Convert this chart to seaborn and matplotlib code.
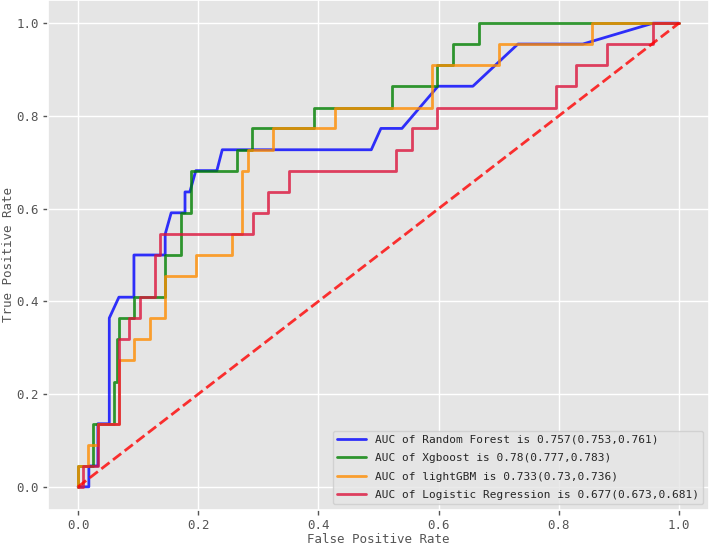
import pandas as pd
import matplotlib
matplotlib.use('Agg')
import matplotlib.pyplot as plt
import seaborn as sns

# ROC points
rf_fpr = [0, 0.018, 0.018, 0.033, 0.033, 0.052, 0.052, 0.068, 0.093, 0.093, 0.145, 0.145, 0.155, 0.178,
          0.178, 0.186, 0.196, 0.231, 0.240, 0.488, 0.504, 0.539, 0.599, 0.657, 0.732, 0.840, 0.957, 1.0]
rf_tpr = [0, 0, 0.045, 0.045, 0.136, 0.136, 0.364, 0.409, 0.409, 0.5, 0.5, 0.545, 0.591, 0.591,
          0.636, 0.636, 0.682, 0.682, 0.727, 0.727, 0.773, 0.773, 0.864, 0.864, 0.955, 0.955, 1.0, 1.0]

xgb_fpr = [0, 0, 0.025, 0.025, 0.060, 0.060, 0.064, 0.064, 0.068, 0.068, 0.093, 0.093, 0.145, 0.145,
           0.171, 0.171, 0.188, 0.188, 0.265, 0.265, 0.290, 0.290, 0.393, 0.393, 0.522, 0.522, 0.597,
           0.597, 0.624, 0.624, 0.667, 0.667, 1.0]
xgb_tpr = [0, 0.045, 0.045, 0.136, 0.136, 0.227, 0.227, 0.318, 0.318, 0.364, 0.364, 0.409, 0.409, 0.5,
           0.5, 0.591, 0.591, 0.682, 0.682, 0.727, 0.727, 0.773, 0.773, 0.818, 0.818, 0.864, 0.864,
           0.909, 0.909, 0.955, 0.955, 1.0, 1.0]

lgb_fpr = [0, 0, 0.017, 0.017, 0.033, 0.033, 0.068, 0.068, 0.093, 0.093, 0.120, 0.120, 0.145, 0.145,
           0.196, 0.196, 0.257, 0.257, 0.273, 0.273, 0.283, 0.283, 0.324, 0.324, 0.428, 0.428, 0.589,
           0.589, 0.700, 0.700, 0.855, 0.855, 1.0]
lgb_tpr = [0, 0.045, 0.045, 0.091, 0.091, 0.136, 0.136, 0.273, 0.273, 0.318, 0.318, 0.364, 0.364, 0.455,
           0.455, 0.5, 0.5, 0.545, 0.545, 0.682, 0.682, 0.727, 0.727, 0.773, 0.773, 0.818, 0.818,
           0.909, 0.909, 0.955, 0.955, 1.0, 1.0]

lr_fpr = [0, 0.008, 0.008, 0.033, 0.033, 0.068, 0.068, 0.085, 0.085, 0.103, 0.103, 0.128, 0.128, 0.136,
          0.136, 0.291, 0.291, 0.316, 0.316, 0.351, 0.351, 0.529, 0.529, 0.556, 0.556, 0.597, 0.597,
          0.795, 0.795, 0.829, 0.829, 0.880, 0.880, 0.957, 0.957, 1.0]
lr_tpr = [0, 0, 0.045, 0.045, 0.136, 0.136, 0.318, 0.318, 0.364, 0.364, 0.409, 0.409, 0.5, 0.5,
          0.545, 0.545, 0.591, 0.591, 0.636, 0.636, 0.682, 0.682, 0.727, 0.727, 0.773, 0.773, 0.818,
          0.818, 0.864, 0.864, 0.909, 0.909, 0.955, 0.955, 1.0, 1.0]

labels = ['AUC of Random Forest is 0.757(0.753,0.761)',
          'AUC of Xgboost is 0.78(0.777,0.783)',
          'AUC of lightGBM is 0.733(0.73,0.736)',
          'AUC of Logistic Regression is 0.677(0.673,0.681)']
colors = ['blue', 'green', 'darkorange', 'crimson']

sns.set_theme(style='darkgrid', rc={
    'axes.facecolor': '#E5E5E5',
    'grid.color': 'white',
    'axes.edgecolor': 'white',
    'axes.labelcolor': '#555555',
    'xtick.color': '#555555',
    'ytick.color': '#555555',
    'xtick.bottom': True,
    'ytick.left': True,
    'xtick.major.size': 3.5,
    'ytick.major.size': 3.5,
})
plt.rcParams['font.family'] = ['DejaVu Sans Mono']

curves = [(rf_fpr, rf_tpr), (xgb_fpr, xgb_tpr), (lgb_fpr, lgb_tpr), (lr_fpr, lr_tpr)]
frames = []
for lab, (f, t) in zip(labels, curves):
    frames.append(pd.DataFrame({'fpr': f, 'tpr': t, 'model': lab}))
df = pd.concat(frames, ignore_index=True)

fig = plt.figure(figsize=(7.09, 5.48), dpi=100)
ax = fig.add_axes([48 / 709, 38 / 548, 661 / 709, 510 / 548])

sns.lineplot(data=df, x='fpr', y='tpr', hue='model', hue_order=labels, palette=colors,
             estimator=None, sort=False, linewidth=2, alpha=0.8, ax=ax)
# chance line
ax.plot([0, 1], [0, 1], color='red', linestyle='--', linewidth=2, alpha=0.8)

ax.set_xlim(-0.05, 1.05)
ax.set_ylim(-0.05, 1.05)
ax.set_xticks([0, 0.2, 0.4, 0.6, 0.8, 1.0])
ax.set_yticks([0, 0.2, 0.4, 0.6, 0.8, 1.0])
ax.tick_params(labelsize=9, width=1, pad=3)
ax.set_xlabel('False Positive Rate', fontsize=9, labelpad=1)
ax.set_ylabel('True Positive Rate', fontsize=9, labelpad=1)

handles, _ = ax.get_legend_handles_labels()
ax.legend(handles[:4], labels, loc='lower right', fontsize=8, handlelength=2.6,
          labelspacing=0.75, facecolor='#E5E5E5', edgecolor='#CCCCCC', framealpha=0.8)

fig.savefig('out.png', dpi=100)
